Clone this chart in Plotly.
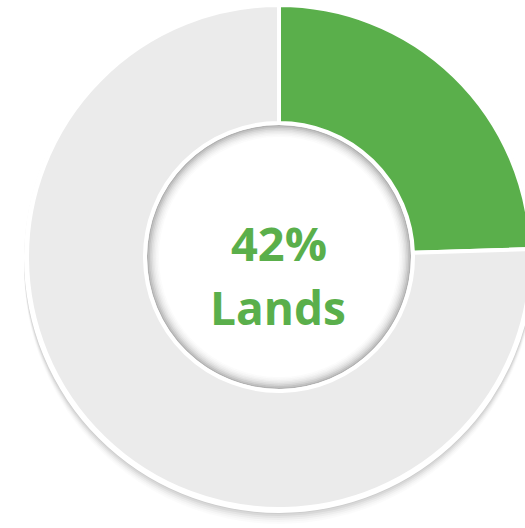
import plotly.graph_objects as go

# ---- data ----
labels = ["Lands", "Other"]
values = [24.5, 75.5]
colors = ["#5AAF4B", "#EBEBEB"]
center_value = "42%"
center_label = "Lands"

# figure is a bit wider than the window so the donut is cropped on the right like the reference
W, H = 545, 528
CX, CY, R = 279, 257, 252      # pixel centre / radius of the donut
R_IN = 134
HOLE = R_IN / R

def dom(cx, cy, r):
    return dict(x=[max((cx - r) / W, 0), min((cx + r) / W, 1)],
                y=[max(1 - (cy + r) / H, 0), min(1 - (cy - r) / H, 1)])

def ring(cx, cy, r, hole, color):
    return go.Pie(values=[1], marker=dict(colors=[color], line=dict(width=0)),
                  domain=dom(cx, cy, r), hole=hole, sort=False,
                  textinfo="none", hoverinfo="skip", showlegend=False)

fig = go.Figure()

# soft outer shadow cast downward
for dy, a in [(12, 0.015), (10, 0.02), (8, 0.03), (6, 0.04), (4, 0.05), (2, 0.05)]:
    fig.add_trace(ring(CX, CY + dy, R + 3, 0.9, f"rgba(0,0,0,{a})"))
# white outline behind the donut
fig.add_trace(ring(CX, CY + 1, R + 3, 0.5, "white"))

# inset shadow inside the hole
for k, a in enumerate([0.30, 0.24, 0.18, 0.13, 0.09, 0.06, 0.035, 0.015]):
    ro = R_IN - 2 - 1.5 * k
    fig.add_trace(ring(CX, CY, ro, (ro - 1.5) / ro, f"rgba(0,0,0,{a})"))

# main donut
fig.add_trace(go.Pie(labels=labels, values=values, sort=False, direction="clockwise", rotation=0,
                     hole=HOLE, marker=dict(colors=colors, line=dict(color="white", width=4)),
                     domain=dom(CX, CY, R), textinfo="none", hoverinfo="label+percent",
                     showlegend=False))

fig.add_annotation(x=278.5 / W, y=1 - 243 / H, xref="paper", yref="paper",
                   text=f"<b>{center_value}</b>", showarrow=False,
                   font=dict(family="Open Sans", size=47, color="#5AAF4B"))
fig.add_annotation(x=278 / W, y=1 - 307 / H, xref="paper", yref="paper",
                   text=f"<b>{center_label}</b>", showarrow=False,
                   font=dict(family="Open Sans", size=46, color="#5AAF4B"))

fig.update_layout(width=W, height=H, margin=dict(l=0, r=0, t=0, b=0),
                  paper_bgcolor="white", plot_bgcolor="white")
fig.write_html("out.html", config={"displayModeBar": False},
               post_script="document.body.style.margin='0';"
                           "document.body.style.overflow='hidden';"
                           "document.documentElement.style.overflow='hidden';")
